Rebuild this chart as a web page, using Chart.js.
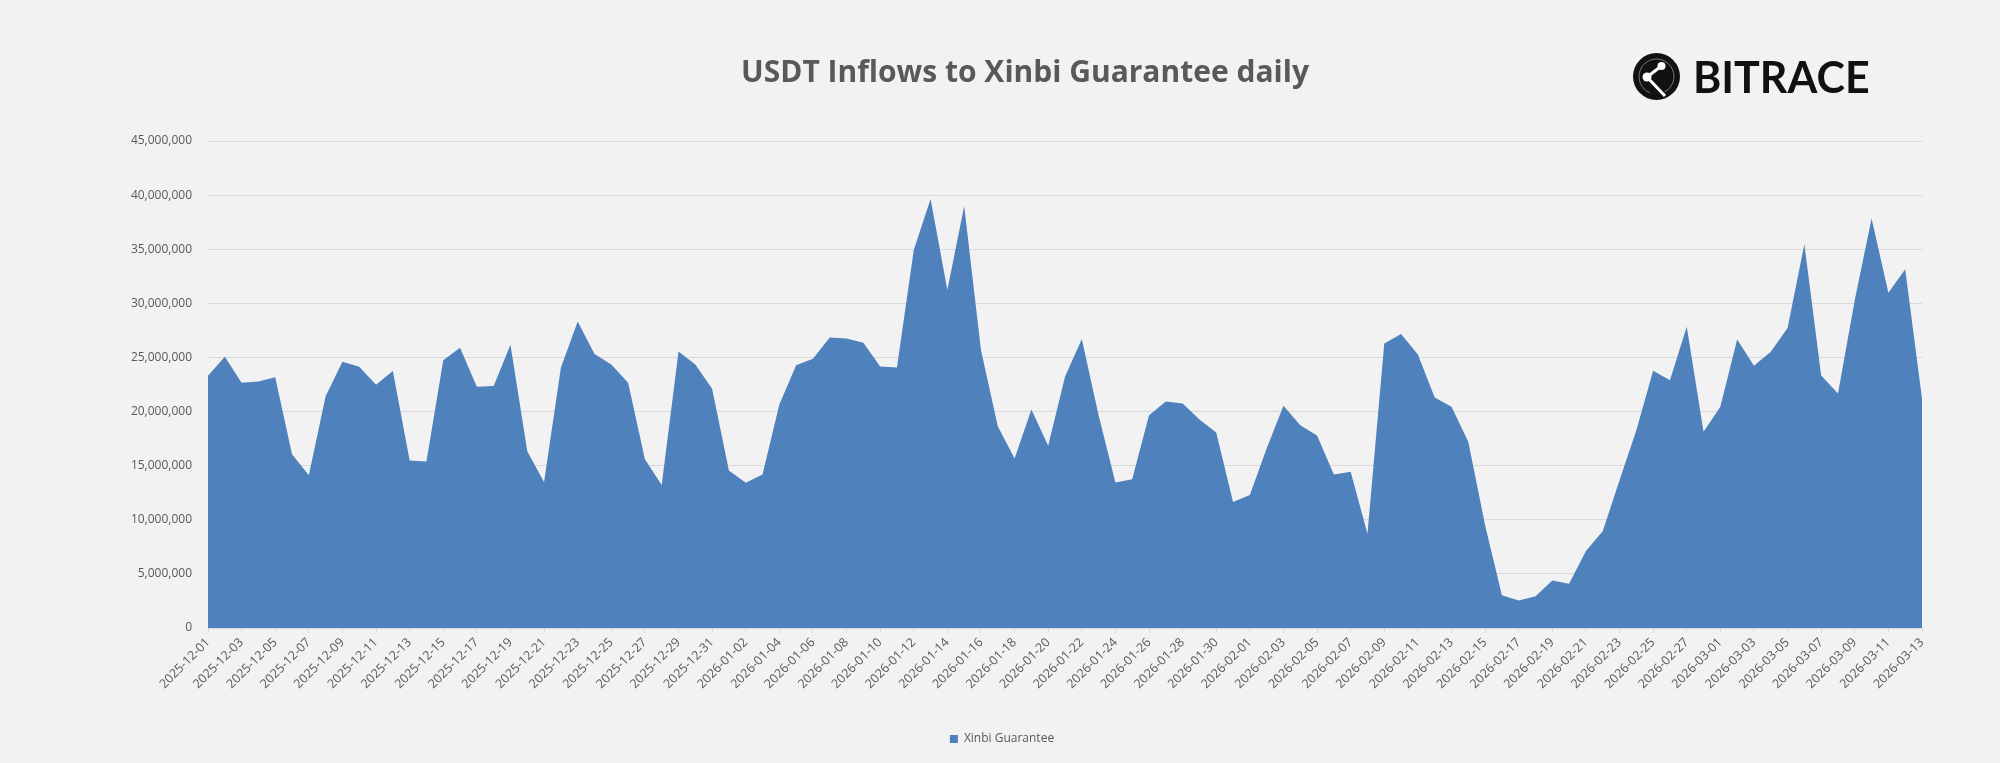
<!DOCTYPE html>
<html>
<head>
<meta charset="utf-8">
<title>USDT Inflows to Xinbi Guarantee daily</title>
<script src="https://cdn.jsdelivr.net/npm/chart.js@4.4.1/dist/chart.umd.min.js"></script>
<style>
  html, body { margin: 0; padding: 0; background: #f2f2f2; overflow: hidden; }
  canvas { display: block; }
</style>
</head>
<body>
<canvas id="myChart" width="2000" height="763"></canvas>
<script>
var titleText = 'USDT Inflows to Xinbi Guarantee daily'
var seriesName = 'Xinbi Guarantee'
var logoText = 'BITRACE'

var dates = [
  '2025-12-01','2025-12-02','2025-12-03','2025-12-04','2025-12-05','2025-12-06','2025-12-07','2025-12-08',
  '2025-12-09','2025-12-10','2025-12-11','2025-12-12','2025-12-13','2025-12-14','2025-12-15','2025-12-16',
  '2025-12-17','2025-12-18','2025-12-19','2025-12-20','2025-12-21','2025-12-22','2025-12-23','2025-12-24',
  '2025-12-25','2025-12-26','2025-12-27','2025-12-28','2025-12-29','2025-12-30','2025-12-31',
  '2026-01-01','2026-01-02','2026-01-03','2026-01-04','2026-01-05','2026-01-06','2026-01-07','2026-01-08',
  '2026-01-09','2026-01-10','2026-01-11','2026-01-12','2026-01-13','2026-01-14','2026-01-15','2026-01-16',
  '2026-01-17','2026-01-18','2026-01-19','2026-01-20','2026-01-21','2026-01-22','2026-01-23','2026-01-24',
  '2026-01-25','2026-01-26','2026-01-27','2026-01-28','2026-01-29','2026-01-30','2026-01-31',
  '2026-02-01','2026-02-02','2026-02-03','2026-02-04','2026-02-05','2026-02-06','2026-02-07','2026-02-08',
  '2026-02-09','2026-02-10','2026-02-11','2026-02-12','2026-02-13','2026-02-14','2026-02-15','2026-02-16',
  '2026-02-17','2026-02-18','2026-02-19','2026-02-20','2026-02-21','2026-02-22','2026-02-23','2026-02-24',
  '2026-02-25','2026-02-26','2026-02-27','2026-02-28',
  '2026-03-01','2026-03-02','2026-03-03','2026-03-04','2026-03-05','2026-03-06','2026-03-07','2026-03-08',
  '2026-03-09','2026-03-10','2026-03-11','2026-03-12','2026-03-13'
]

// daily inflows (USDT)
var decInflows = [
  23300000, 25060000, 22660000, 22780000, 23180000, 16060000, 14120000, 21420000,
  24600000, 24140000, 22470000, 23740000, 15470000, 15380000, 24750000, 25890000,
  22290000, 22350000, 26170000, 16340000, 13500000, 24040000, 28330000, 25310000,
  24350000, 22660000, 15600000, 13220000, 25550000, 24350000, 22100000
]
var janInflows = [
  14550000, 13410000, 14180000, 20650000, 24290000, 24880000, 26850000, 26760000,
  26360000, 24170000, 24070000, 34930000, 39640000, 31230000, 38990000, 25680000,
  18650000, 15660000, 20190000, 16830000, 23210000, 26700000, 19670000, 13440000,
  13750000, 19670000, 20930000, 20750000, 19270000, 18060000, 11650000
]
var febInflows = [
  12300000, 16580000, 20530000, 18740000, 17790000, 14180000, 14430000, 8720000,
  26290000, 27160000, 25280000, 21300000, 20440000, 17200000, 9490000, 3020000,
  2530000, 2930000, 4380000, 4100000, 7120000, 8940000, 13660000, 18280000,
  23770000, 22900000, 27840000, 18130000
]
var marInflows = [
  20440000, 26660000, 24230000, 25520000, 27710000, 35450000, 23340000, 21670000,
  30300000, 37850000, 30980000, 33140000, 21210000
]

var inflows = decInflows.concat(janInflows, febInflows, marInflows)

var textGray = '#595959'
var gridGray = '#d9d9d9'
var areaBlue = '#4f81bd'

// title + logo drawn on top of the canvas
var headerPlugin = {
  id: 'header',
  afterDraw: function(chart) {
    var ctx = chart.ctx
    ctx.save()
    ctx.fillStyle = textGray
    ctx.font = 'bold 30px "Open Sans"'
    ctx.textAlign = 'center'
    ctx.textBaseline = 'alphabetic'
    ctx.fillText(titleText, 1025, 82)

    // logo icon
    var cx = 1656.5, cy = 76.5
    ctx.fillStyle = '#111'
    ctx.beginPath()
    ctx.arc(cx, cy, 23.5, 0, Math.PI * 2)
    ctx.fill()
    ctx.strokeStyle = '#777'
    ctx.lineWidth = 1
    ctx.beginPath()
    ctx.arc(cx, cy, 17.5, Math.PI * 0.62, Math.PI * 2.35)
    ctx.stroke()
    ctx.strokeStyle = '#fff'
    ctx.fillStyle = '#fff'
    ctx.lineWidth = 3
    ctx.beginPath()
    ctx.moveTo(1661.5, 66)
    ctx.lineTo(1647, 77)
    ctx.lineTo(1665, 96)
    ctx.stroke()
    ;[[1661.5, 66, 4], [1647, 77, 4.5]].forEach(function(p) {
      ctx.beginPath()
      ctx.arc(p[0], p[1], p[2], 0, Math.PI * 2)
      ctx.fill()
    })

    ctx.fillStyle = '#111'
    ctx.font = 'bold 43px Lato'
    ctx.textAlign = 'left'
    ctx.fillText(logoText, 1693, 93)
    ctx.restore()
  }
}

const ctx = document.getElementById('myChart');
var myAreaChart = new Chart(ctx, {
  type: 'line',
  data: {
    labels: dates,
    datasets: [{
      label: seriesName,
      data: inflows,
      fill: 'origin',
      backgroundColor: areaBlue,
      borderColor: areaBlue,
      borderWidth: 0,
      pointRadius: 0,
      tension: 0
    }]
  },
  options: {
    responsive: false,
    animation: false,
    layout: {
      padding: { left: 82, right: 78, top: 141, bottom: 8 }
    },
    scales: {
      x: {
        offset: false,
        grid: {
          drawOnChartArea: false,
          drawTicks: true,
          tickLength: 5,
          color: gridGray
        },
        border: { display: true, color: gridGray },
        ticks: {
          autoSkip: false,
          maxRotation: 45,
          minRotation: 45,
          padding: 2,
          color: textGray,
          font: { family: '"Open Sans"', size: 12.5 },
          callback: function(val, idx) {
            return idx % 2 === 0 ? this.getLabelForValue(val) : null
          }
        },
        afterFit: function(scale) { scale.height = 95 }
      },
      y: {
        min: 0,
        max: 45000000,
        grid: { color: gridGray, drawTicks: false },
        border: { display: false },
        ticks: {
          stepSize: 5000000,
          padding: 16,
          color: textGray,
          font: { family: '"Open Sans"', size: 12 },
          callback: function(val) { return val.toLocaleString('en-US') }
        },
        afterFit: function(scale) { scale.width = 126 }
      }
    },
    plugins: {
      title: { display: false },
      tooltip: { enabled: false },
      legend: {
        position: 'bottom',
        labels: {
          boxWidth: 8,
          boxHeight: 8,
          padding: 10,
          color: textGray,
          font: { family: '"Open Sans"', size: 12 }
        }
      }
    }
  },
  plugins: [headerPlugin]
});
</script>
</body>
</html>
